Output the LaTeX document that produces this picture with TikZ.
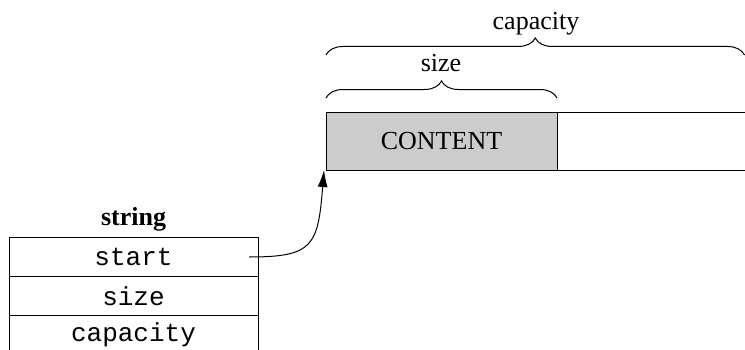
\documentclass[tikz,border=0pt]{standalone}
\usepackage{fontspec}
\setmainfont{Liberation Serif}
\setmonofont{Liberation Mono}
\usetikzlibrary{positioning,arrows.meta,decorations.pathreplacing}

\tikzset{
  cell/.style={draw,rectangle,minimum width=124.5pt,minimum height=19.5pt,inner sep=0pt,outer sep=0pt,font=\fontsize{13}{15}\selectfont\ttfamily},
  slot/.style={draw,rectangle,minimum height=29pt,inner sep=0pt,outer sep=0pt,font=\fontsize{13}{15}\selectfont},
  lbl/.style={inner sep=0pt,anchor=base,font=\fontsize{13}{15}\selectfont},
  bracket/.style={decorate,decoration={brace,amplitude=8.5pt}}
}

\begin{document}
\begin{tikzpicture}[x=0.5pt,y=0.5pt,line width=0.5pt]
				\clip (0,0) rectangle (745,349);
				% struct
				\node[cell] (start) at (133.5,92) {start};
				\node[cell,below=0pt of start] (size) {size};
				\node[cell,below=0pt of size] (cap) {capacity};
				\node[lbl,font=\fontsize{13}{15}\selectfont\bfseries] (title) at (133.5,124) {string};
				% buffer
				\node[slot,fill=gray!40,minimum width=115.5pt] (content) at (441.5,208) {CONTENT};
				\node[slot,minimum width=120pt,right=0pt of content] (free) {};
				% braces
				\coordinate (s1) at (326,251);
				\coordinate (s2) at (557,251);
				\draw[bracket] (s1) -- (s2);
				\node[lbl] (sizelbl) at (441,278) {size};
				\coordinate (c1) at (326,294);
				\coordinate (c2) at (744.5,294);
				\draw[bracket] (c1) -- (c2);
				\node[lbl] (caplbl) at (536,319) {capacity};
				% pointer
				\coordinate (ptr) at ([xshift=-4.5pt]start.east);
				\draw[-{Latex[length=8.5pt,width=5pt]}] (ptr) .. controls +(32pt,0) and +(-3pt,-38pt) .. ([xshift=-1pt]content.south west);
			\end{tikzpicture}
\end{document}
